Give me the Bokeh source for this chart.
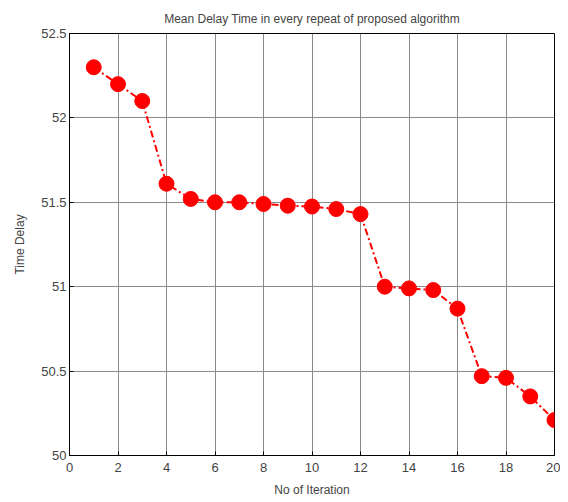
from bokeh.plotting import figure
from bokeh.models import FixedTicker, Range1d
from bokeh.embed import file_html
from bokeh.resources import INLINE

iterations = list(range(1, 21))
delay = [52.30, 52.20, 52.10, 51.61, 51.52, 51.50, 51.50, 51.49, 51.48, 51.475,
         51.46, 51.43, 51.00, 50.99, 50.98, 50.87, 50.47, 50.46, 50.35, 50.21]
x_ticks = [0, 2, 4, 6, 8, 10, 12, 14, 16, 18, 20]
y_ticks = [50, 50.5, 51, 51.5, 52, 52.5]
y_tick_labels = ["50", "50.5", "51", "51.5", "52", "52.5"]

FONT = "Liberation Sans"

p = figure(width=560, height=499, output_backend="svg", toolbar_location=None,
           x_range=Range1d(0, 20), y_range=Range1d(50, 52.5),
           title="Mean Delay Time in every repeat of proposed algorithm",
           min_border_left=69, min_border_right=6, min_border_top=33, min_border_bottom=39)

p.title.text_font = FONT
p.title.text_font_size = "12px"
p.title.text_font_style = "normal"
p.title.align = "center"
p.title.offset = 0
p.title.standoff = 16

p.outline_line_color = "black"
p.outline_line_width = 1
p.outline_line_alpha = 1

p.xaxis.ticker = FixedTicker(ticks=x_ticks)
p.yaxis.ticker = FixedTicker(ticks=y_ticks)
p.yaxis.major_label_overrides = {t: s for t, s in zip(y_ticks, y_tick_labels)}
p.xaxis.axis_label = "No of Iteration"
p.yaxis.axis_label = "Time Delay"

for ax in (p.xaxis[0], p.yaxis[0]):
    ax.axis_line_color = "black"
    ax.axis_line_width = 1
    ax.major_tick_in = 4
    ax.major_tick_out = 0
    ax.minor_tick_line_color = None
    ax.major_tick_line_color = "black"
    ax.major_label_text_font = FONT
    ax.major_label_text_font_size = "13px"
    ax.axis_label_text_font = FONT
    ax.axis_label_text_font_size = "12px"
    ax.axis_label_text_font_style = "normal"

p.xaxis.major_label_standoff = 7
p.xaxis.axis_label_standoff = 8
p.yaxis.major_label_standoff = 3
p.yaxis.axis_label_standoff = 11

p.grid.grid_line_color = "#8a8a8a"
p.grid.grid_line_alpha = 1
p.grid.grid_line_width = 1

p.line(iterations, delay, line_color="red", line_width=2, line_dash="7 3 2 3")
p.scatter(iterations, delay, size=15, fill_color="red", line_color="red")

p.background_fill_color = "white"
p.border_fill_color = "white"

open("out.html", "w").write(file_html(p, INLINE))
